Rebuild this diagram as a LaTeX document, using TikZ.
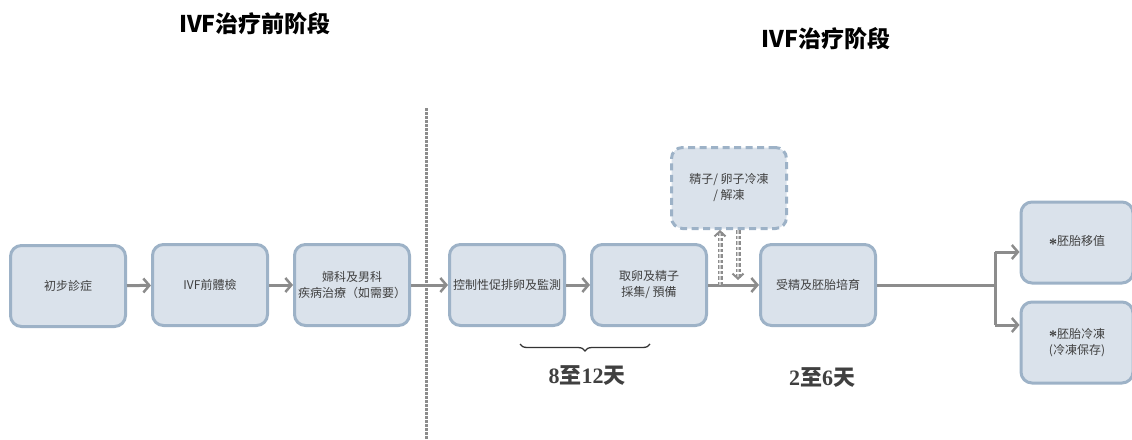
\documentclass[tikz,border=0pt]{standalone}
\usepackage{fontspec}
\usetikzlibrary{arrows.meta,decorations.pathreplacing}
\newfontfamily\tcfont{Noto Sans CJK TC}
\newfontfamily\scfont{Noto Sans CJK SC}
\newfontfamily\numfont{Liberation Serif}
\definecolor{boxfill}{HTML}{DAE2EB}
\definecolor{boxline}{HTML}{9DB2C7}
\definecolor{arrgray}{HTML}{8C8C8C}
\definecolor{txt}{HTML}{404040}
\newcommand{\astk}{\raisebox{-3.5pt}{\numfont\bfseries\fontsize{16}{15}\selectfont *}}
\tikzset{
  stepbox/.style={draw=boxline, fill=boxfill, line width=3pt, rounded corners=11pt,
    minimum width=115pt, minimum height=81pt, align=center, text=txt,
    font=\tcfont\fontsize{12}{16}\selectfont, inner sep=2pt},
  dashbox/.style={stepbox, dash pattern=on 7pt off 4.5pt},
  arr/.style={draw=arrgray, line width=3pt, -{Straight Barb[length=6pt,width=14pt,line width=2.5pt]}},
  plain/.style={draw=arrgray, line width=3pt},
  darr/.style={draw=arrgray, line width=1.5pt, double=arrgray!45, double distance=2pt,
    dash pattern=on 3.5pt off 2pt, -{Straight Barb[length=5pt,width=11pt,line width=2pt]}},
  title/.style={font=\scfont\bfseries\fontsize{23}{26}\selectfont, text=black},
  days/.style={font=\bfseries\fontsize{22}{26}\selectfont, text=txt}
}
\begin{document}
\begin{tikzpicture}[x=1pt,y=-1pt]
\useasboundingbox (0,0) rectangle (1132,439);
% titles
\node[title] (t1) at (255,24) {IVF治疗前阶段};
\node[title] (t2) at (826,39) {IVF治疗阶段};
% divider
\draw[arrgray, line width=3pt, dash pattern=on 2.5pt off 1.5pt] (426,108) -- (426,439);
% boxes
\node[stepbox] (b1) at (68,286) {初步診症};
\node[stepbox] (b2) at (210,285) {IVF前體檢};
\node[stepbox] (b3) at (352,285) {婦科及男科\\疾病治療（如需要）};
\node[stepbox] (b4) at (507,285) {控制性促排卵及監測};
\node[stepbox] (b5) at (649,285) {取卵及精子\\採集/ 預備};
\node[stepbox] (b6) at (818,285) {受精及胚胎培育};
\node[dashbox] (d) at (729,188) {精子/ 卵子冷凍\\/ 解凍};
\node[stepbox, minimum width=112pt] (b7) at (1077,242.5) {\astk 胚胎移值};
\node[stepbox, minimum width=112pt] (b8) at (1077,342.5) {\astk 胚胎冷凍\\(冷凍保存)};
% arrows
\draw[arr] (b1) -- (b2);
\draw[arr] (b2) -- (b3);
\draw[arr] (b3) -- (b4);
\draw[arr] (b4) -- (b5);
\draw[arr] (b5) -- (b6);
% dashed arrows
\coordinate (u0) at (720,285);
\coordinate (v0) at (738,280);
\draw[darr] (u0) -- (u0 |- d.south);
\draw[darr] (v0 |- d.south) -- (v0);
% fork
\coordinate (fork) at (995,285);
\coordinate (j1) at (995,252);
\coordinate (j2) at (995,325);
\draw[plain] (b6.east) -- (fork);
\draw[plain] (j1) -- (j2);
\draw[arr] (j1) -- (j1 -| b7.west);
\draw[arr] (j2) -- (j2 -| b8.west);
% brace
\coordinate (br1) at (520,344);
\coordinate (br2) at (650,344);
\draw[line width=1.3pt, black!80, decorate, decoration={brace, mirror, amplitude=7pt}] (br1) -- (br2);
\node[days] (l1) at (587,376) {{\numfont 8}{\tcfont 至}{\numfont 12}{\tcfont 天}};
\node[days] (l2) at (822,378) {{\numfont 2}{\tcfont 至}{\numfont 6}{\tcfont 天}};
\end{tikzpicture}
\end{document}
